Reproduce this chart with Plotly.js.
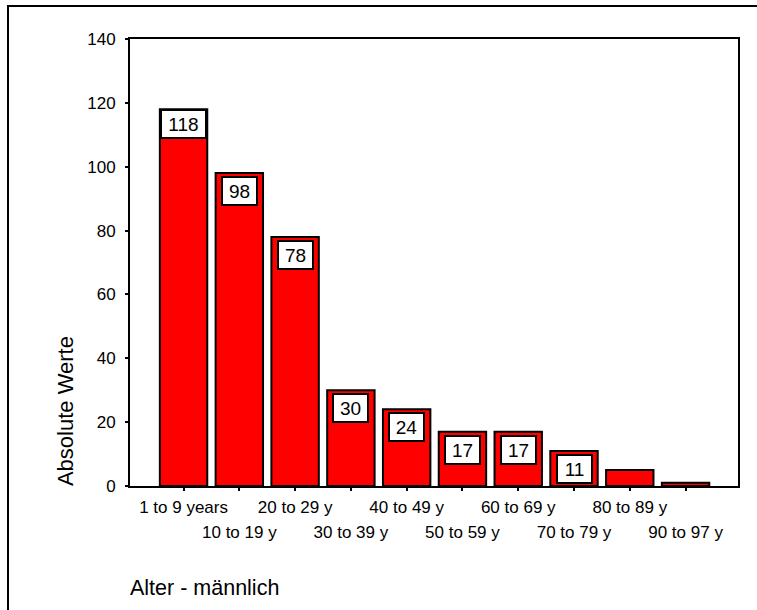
<!DOCTYPE html>
<html>
<head>
<meta charset="utf-8">
<script src="https://cdn.plot.ly/plotly-3.0.1.min.js"></script>
<style>
  html, body { margin: 0; padding: 0; background: #fff; }
  #wrap { position: relative; width: 757px; height: 610px; overflow: hidden; }
  #frame { position: absolute; left: 7px; top: 5px; width: 800px; height: 700px;
           border-left: 2.5px solid #000; border-top: 2.5px solid #000; }
  #chart { position: absolute; left: 0; top: 0; width: 757px; height: 610px; }
</style>
</head>
<body>
<div id="wrap">
  <div id="frame"></div>
  <div id="chart"></div>
</div>
<script>
// Age groups (male) and absolute counts
const ageGroups = ["1 to 9 years", "10 to 19 y", "20 to 29 y", "30 to 39 y", "40 to 49 y",
                   "50 to 59 y", "60 to 69 y", "70 to 79 y", "80 to 89 y", "90 to 97 y"];
const counts = [118, 98, 78, 30, 24, 17, 17, 11, 5, 1];
// Groups whose count is printed inside the bar
const labelled = [true, true, true, true, true, true, true, true, false, false];
const yTicks = [0, 20, 40, 60, 80, 100, 120, 140];

const FONT = "Arial, 'Liberation Sans', sans-serif";
const idx = ageGroups.map((_, i) => i);

const bars = {
  type: "bar",
  x: idx,
  y: counts,
  width: 0.85,
  marker: { color: "#ff0000", line: { color: "#000", width: 2 } },
  hoverinfo: "x+y",
  showlegend: false
};

const oddIdx = idx.filter(i => i % 2 === 1);

// Empty trace that places the second (staggered) label row on its own axis
const secondRow = {
  type: "scatter", mode: "markers",
  x: [], y: [],
  xaxis: "x2", yaxis: "y",
  hoverinfo: "skip", showlegend: false
};

// Count labels: white boxes hanging from the top of each bar
const valueNotes = counts.map((v, i) => labelled[i] ? {
  x: i, y: v, xref: "x", yref: "y",
  text: String(v), showarrow: false,
  xanchor: "center", yanchor: "top",
  yshift: i === 0 ? 0 : -3,
  width: i === 0 ? 41 : 31, height: 24,
  bgcolor: "#fff", bordercolor: "#000", borderwidth: 2, borderpad: 1,
  font: { family: FONT, size: 19, color: "#000" }
} : null).filter(Boolean);

const layout = {
  width: 757, height: 610,
  margin: { l: 130, r: 18.5, t: 39, b: 124 },
  paper_bgcolor: "rgba(0,0,0,0)",
  plot_bgcolor: "#fff",
  font: { family: FONT, size: 17, color: "#000" },
  xaxis: {
    range: [-0.96, 9.94],
    tickmode: "array",
    tickvals: idx,
    ticktext: idx.map(i => i % 2 === 0 ? ageGroups[i] : ""),
    ticks: "outside", ticklen: 3, tickwidth: 2, tickcolor: "#000",
    ticklabelstandoff: 2,
    showline: true, linecolor: "#000", linewidth: 2, mirror: true,
    showgrid: false, zeroline: false, fixedrange: true
  },
  xaxis2: {
    overlaying: "x", anchor: "y", side: "bottom",
    range: [-0.96, 9.94],
    tickmode: "array",
    tickvals: oddIdx,
    ticktext: oddIdx.map(i => ageGroups[i]),
    ticks: "", ticklabelstandoff: 34,
    showline: false, showgrid: false, zeroline: false, fixedrange: true
  },
  yaxis: {
    range: [0, 140],
    tickmode: "array",
    tickvals: yTicks,
    ticks: "outside", ticklen: 3, tickwidth: 2, tickcolor: "#000",
    ticklabelstandoff: 6,
    showline: true, linecolor: "#000", linewidth: 2, mirror: true,
    showgrid: false, zeroline: false, fixedrange: true
  },
  annotations: valueNotes.concat([
    {
      text: "Absolute Werte", xref: "paper", yref: "paper",
      x: -65 / 608.5, y: (486 - 411) / 447, textangle: -90,
      xanchor: "center", yanchor: "middle", showarrow: false,
      font: { family: FONT, size: 22, color: "#000" }
    },
    {
      text: "Alter - männlich", xref: "paper", yref: "paper",
      x: -2 / 608.5, y: -(588 - 486) / 447,
      xanchor: "left", yanchor: "middle", showarrow: false,
      font: { family: FONT, size: 21.5, color: "#000" }
    }
  ])
};

Plotly.newPlot("chart", [bars, secondRow], layout, { displayModeBar: false, staticPlot: true });
</script>
</body>
</html>
